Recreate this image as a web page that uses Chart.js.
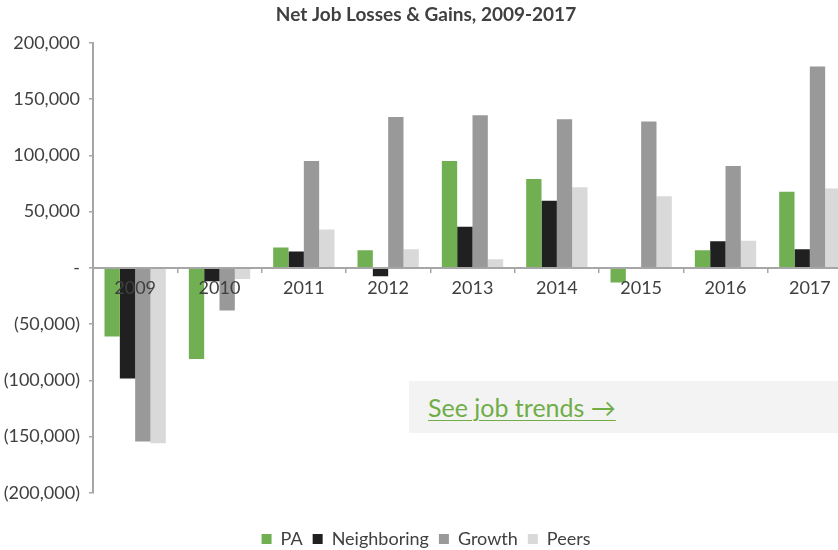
<!DOCTYPE html>
<html>
<head>
<meta charset="utf-8">
<script src="https://cdn.jsdelivr.net/npm/chart.js@4.4.1/dist/chart.umd.min.js"></script>
<style>
  html, body { margin: 0; padding: 0; background: #ffffff; overflow: hidden; }
  #wrap { position: relative; width: 838px; height: 550px; overflow: hidden; }
  #chart { position: absolute; left: 0; top: 0; }
  #trends {
    position: absolute; left: 409px; top: 381px; width: 440px; height: 52px;
    background: #f3f3f3; box-sizing: border-box; padding-left: 19px;
    font-family: Lato, "Open Sans", sans-serif; font-size: 25px; line-height: 52px;
  }
  #trends a { color: #70ad47; text-decoration: underline; text-underline-offset: 3px; text-decoration-thickness: 1px; }
</style>
</head>
<body>
<div id="wrap">
  <canvas id="chart" width="852" height="558"></canvas>
  <div id="trends"><a href="#">See job trends &rarr;</a></div>
</div>
<script>
// Net job change by year for Pennsylvania and its comparison groups
const years = ['2009', '2010', '2011', '2012', '2013', '2014', '2015', '2016', '2017'];
const paValues = [-61000, -81000, 18000, 15500, 95000, 79000, -13000, 15500, 67500];
const neighboringValues = [-98500, -12000, 14500, -7500, 36500, 59500, 0, 23500, 16500];
const growthValues = [-154500, -38000, 95000, 134000, 135500, 132000, 130000, 90500, 179000];
const peersValues = [-156000, -10000, 34000, 16500, 7500, 71500, 63500, 24000, 70500];
const yTicks = [-200000, -150000, -100000, -50000, 0, 50000, 100000, 150000, 200000];

const textColor = '#404040';
const axisColor = '#a6a6a6';
const fontFamily = 'Lato, "Open Sans", sans-serif';

// Accounting-style tick labels: dash for zero, parentheses for losses
function accounting(v) {
  if (v === 0) return '-';
  const s = Math.abs(v).toLocaleString('en-US');
  return v < 0 ? '(' + s + ')' : s;
}

const ctx = document.getElementById('chart');
new Chart(ctx, {
  type: 'bar',
  data: {
    labels: years,
    datasets: [
      { label: 'PA', data: paValues, backgroundColor: '#70b052' },
      { label: 'Neighboring', data: neighboringValues, backgroundColor: '#202020' },
      { label: 'Growth', data: growthValues, backgroundColor: '#999999' },
      { label: 'Peers', data: peersValues, backgroundColor: '#d9d9d9' }
    ]
  },
  options: {
    responsive: false,
    animation: false,
    devicePixelRatio: 1,
    datasets: { bar: { categoryPercentage: 0.727, barPercentage: 1.0, borderWidth: 0 } },
    layout: { padding: { left: 0, right: 0, top: 0, bottom: 0 } },
    plugins: {
      tooltip: { enabled: false },
      title: {
        display: true,
        text: 'Net Job Losses & Gains, 2009-2017',
        color: textColor,
        font: { family: fontFamily, size: 19, weight: 'bold' },
        padding: { top: 3, bottom: 17 }
      },
      legend: {
        position: 'bottom',
        // spacer above the legend row
        title: { display: true, text: '', font: { size: 1 }, padding: { top: 26, bottom: 0 } },
        labels: {
          color: textColor,
          font: { family: fontFamily, size: 18 },
          boxWidth: 10,
          boxHeight: 10,
          padding: 10
        }
      }
    },
    scales: {
      x: {
        position: { y: 0 },
        grid: { drawOnChartArea: false, tickLength: 4, color: axisColor, lineWidth: 1.5 },
        border: { color: axisColor, width: 2, z: 1 },
        ticks: { color: textColor, font: { family: fontFamily, size: 18 }, padding: 6, maxRotation: 0, z: 1 }
      },
      y: {
        min: -200000,
        max: 200000,
        afterBuildTicks: (scale) => { scale.ticks = yTicks.map(v => ({ value: v })); },
        afterFit: (scale) => { scale.width = 93; },
        grid: { drawOnChartArea: false, tickLength: 4, color: axisColor, lineWidth: 1.5 },
        border: { color: axisColor, width: 2 },
        ticks: { color: textColor, font: { family: fontFamily, size: 18 }, padding: 9, callback: (v) => accounting(v) }
      }
    }
  }
});
</script>
</body>
</html>
